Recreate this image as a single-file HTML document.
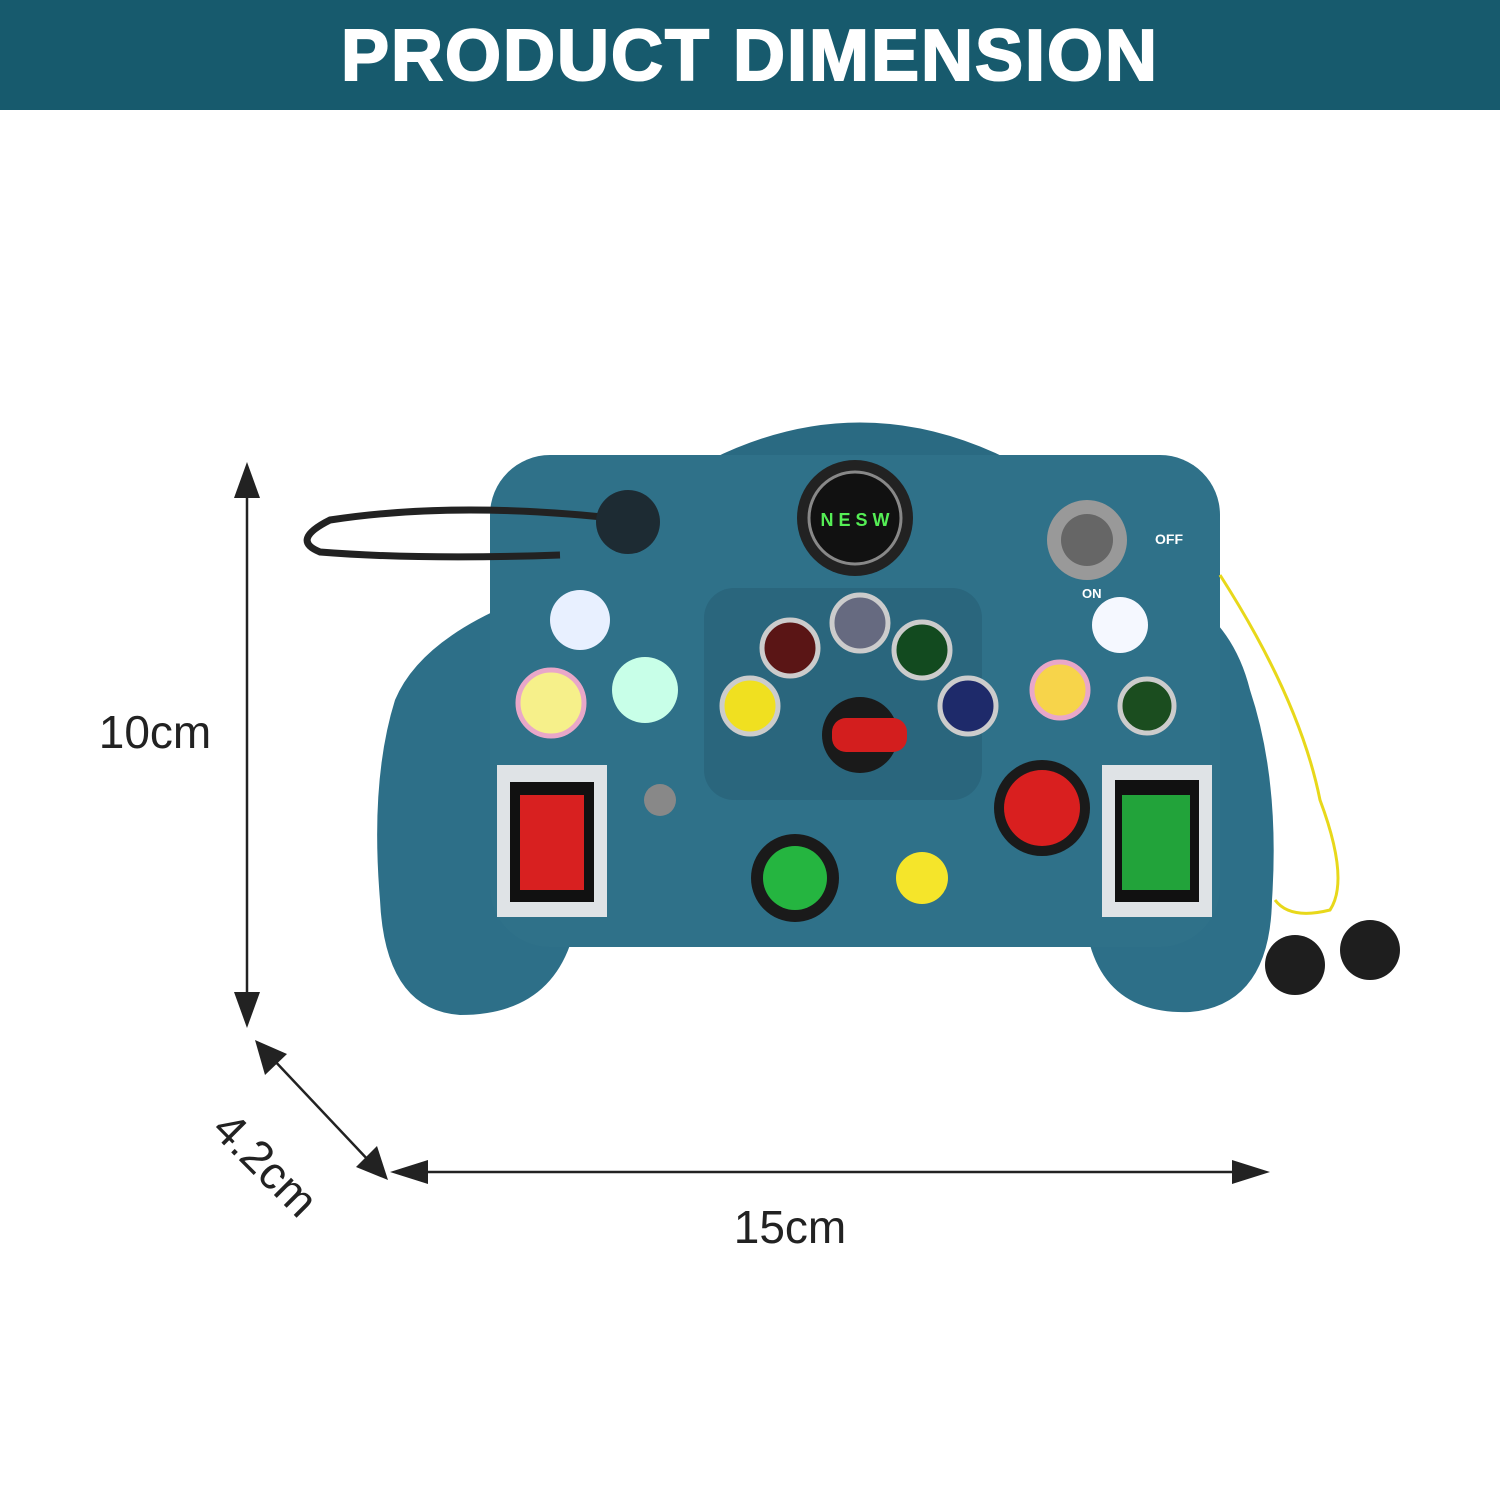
<!DOCTYPE html>
<html><head><style>
body{margin:0;width:1500px;height:1500px;background:#fff;overflow:hidden;font-family:"Liberation Sans",sans-serif}
</style></head><body>
<svg width="1500" height="1500" viewBox="0 0 1500 1500" xmlns="http://www.w3.org/2000/svg">
<rect x="0" y="0" width="1500" height="110" fill="#175a6d"/>
<text x="750" y="80" text-anchor="middle" font-family="Liberation Sans" font-weight="bold" font-size="72" fill="#fff" stroke="#fff" stroke-width="2" letter-spacing="2">PRODUCT DIMENSION</text>

<g stroke="#222" stroke-width="2.5" fill="#222">
<line x1="247" y1="490" x2="247" y2="1000"/>
<polygon points="247,462 234,498 260,498" stroke="none"/>
<polygon points="247,1028 234,992 260,992" stroke="none"/>
<line x1="420" y1="1172" x2="1240" y2="1172"/>
<polygon points="390,1172 428,1160 428,1184" stroke="none"/>
<polygon points="1270,1172 1232,1160 1232,1184" stroke="none"/>
<line x1="272" y1="1058" x2="370" y2="1162"/>
<polygon points="255,1040 265,1075 287,1054" stroke="none"/>
<polygon points="388,1180 356,1167 377,1146" stroke="none"/>
</g>
<text x="155" y="748" text-anchor="middle" font-size="46" fill="#222">10cm</text>
<text x="790" y="1243" text-anchor="middle" font-size="46" fill="#222">15cm</text>
<text x="265" y="1180" text-anchor="middle" font-size="46" fill="#222" transform="rotate(45 265 1165)">4.2cm</text>

<path d="M710,460 Q860,385 1010,460 Z" fill="#2a6a82"/>
<path d="M520,600 Q420,640 395,700 Q370,780 380,900 Q385,1010 460,1015 Q545,1015 570,945 L1090,945 Q1110,1015 1190,1012 Q1270,1005 1272,900 Q1280,780 1250,690 Q1235,630 1190,600 Z" fill="#2d6f88"/>
<rect x="490" y="455" width="730" height="492" rx="60" fill="#2f7189"/>
<rect x="704" y="588" width="278" height="212" rx="30" fill="#2a667d"/>
<path d="M630,520 Q460,500 330,520 Q290,540 320,552 Q420,560 560,555" fill="none" stroke="#222" stroke-width="7"/>
<circle cx="628" cy="522" r="32" fill="#1d2b33"/>
<circle cx="855" cy="518" r="58" fill="#222"/><circle cx="855" cy="518" r="46" fill="#111" stroke="#888" stroke-width="3"/>
<text x="855" y="526" text-anchor="middle" font-size="18" font-weight="bold" fill="#5e5">N E S W</text>
<circle cx="1087" cy="540" r="40" fill="#999"/><circle cx="1087" cy="540" r="26" fill="#666"/>
<text x="1155" y="544" font-size="14" font-weight="bold" fill="#fff">OFF</text>
<text x="1082" y="598" font-size="13" font-weight="bold" fill="#fff">ON</text>
<circle cx="580" cy="620" r="30" fill="#e8f0ff"/>
<circle cx="551" cy="703" r="33" fill="#f6f08a" stroke="#e9a7c8" stroke-width="5"/>
<circle cx="645" cy="690" r="33" fill="#c8ffe8"/>
<circle cx="790" cy="648" r="28" fill="#5a1515" stroke="#ccc" stroke-width="5"/>
<circle cx="860" cy="623" r="28" fill="#666a80" stroke="#ccc" stroke-width="5"/>
<circle cx="922" cy="650" r="28" fill="#124a1f" stroke="#ccc" stroke-width="5"/>
<circle cx="750" cy="706" r="28" fill="#f0e020" stroke="#ccc" stroke-width="5"/>
<circle cx="968" cy="706" r="28" fill="#1e2a6a" stroke="#ccc" stroke-width="5"/>
<circle cx="860" cy="735" r="38" fill="#1a1a1a"/><rect x="832" y="718" width="75" height="34" rx="14" fill="#d31e1e"/>
<circle cx="1120" cy="625" r="28" fill="#f5f8ff"/>
<circle cx="1060" cy="690" r="28" fill="#f7d44a" stroke="#e9a7c8" stroke-width="5"/>
<circle cx="1147" cy="706" r="27" fill="#1b4d1f" stroke="#ccc" stroke-width="5"/>
<rect x="497" y="765" width="110" height="152" fill="#dfe3e6"/><rect x="510" y="782" width="84" height="120" fill="#111"/><rect x="520" y="795" width="64" height="95" fill="#d82020"/>
<rect x="1102" y="765" width="110" height="152" fill="#dfe3e6"/><rect x="1115" y="780" width="84" height="122" fill="#111"/><rect x="1122" y="795" width="68" height="95" fill="#22a33a"/>
<circle cx="1042" cy="808" r="48" fill="#1a1a1a"/><circle cx="1042" cy="808" r="38" fill="#d91f1f"/>
<circle cx="795" cy="878" r="44" fill="#1a1a1a"/><circle cx="795" cy="878" r="32" fill="#25b540"/>
<circle cx="922" cy="878" r="26" fill="#f5e52a"/>
<circle cx="660" cy="800" r="16" fill="#888"/>
<path d="M1220,575 Q1300,700 1320,800 Q1350,880 1330,910 Q1290,920 1275,900" fill="none" stroke="#e8d81a" stroke-width="3"/>
<circle cx="1295" cy="965" r="30" fill="#1e1e1e"/><circle cx="1370" cy="950" r="30" fill="#1e1e1e"/>
</svg>
</body></html>
